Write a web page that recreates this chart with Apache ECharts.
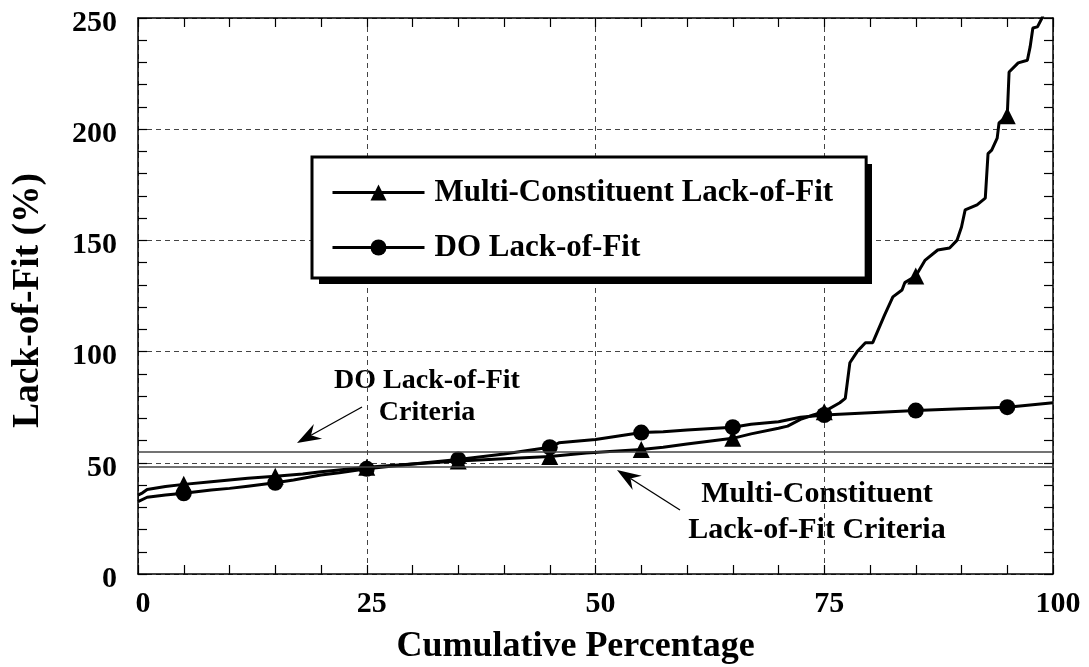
<!DOCTYPE html>
<html><head><meta charset="utf-8">
<script src="https://cdn.jsdelivr.net/npm/echarts@6/dist/echarts.min.js"></script>
<style>html,body{margin:0;padding:0;background:#fff}#c{width:1089px;height:667px}</style>
</head><body><div id="c"></div>
<script>
// ---- data ----
const seriesNames = ['Multi-Constituent Lack-of-Fit', 'DO Lack-of-Fit'];
const multiX = [0,0.5,1,3,5,8,10,12,15,18,20,25,30,35,40,45,49,55,57.4,60,65,67,70,71,72.4,73.8,75,76.7,77.3,77.8,78.6,79.5,80.3,81.6,82.5,83.5,83.8,85,86,87.4,88.7,89.5,90,90.4,91.7,92.6,92.9,93.3,93.9,94.1,95,95.2,96.2,97.2,97.5,97.8,98.3,98.8,99.3];
const multiY = [35.5,36.5,38,39.3,40.3,41.5,42.3,43,44,45,46,48,49.5,50.8,51.8,52.8,54.4,56,57,58.5,61,63,65.5,66.5,69.5,71.5,73,77,79,95,100,104,104,116.5,124.6,127.7,131,134,141,145.7,146.6,150,156,163.7,166,169,189,190.6,196,202.8,206,225.7,229.8,231,237,245.5,246,250,256];
const doX = [0,1,3,5,8,10,12,15,17,20,22,25,30,35,40,45,46,50,54.5,55,57.4,60,65,67,70,72.4,75,80,85,90,95,100];
const doY = [32.5,34.5,35.5,36.3,37.8,38.5,39.5,41,42.3,44.5,45.5,47.3,49.5,51.5,54,57,59,60.5,63.3,63.6,64,64.8,66,67.3,68.5,70.5,71.5,72.5,73.5,74.3,75,77];
const markerX = [5,15,25,35,45,55,65,75,85,95];
const criteria = { doCriterion: 55, multiCriterion: 48 };
const xTitle = 'Cumulative Percentage';
const yTitle = 'Lack-of-Fit (%)';
const annotDO = 'DO Lack-of-Fit\nCriteria';
const annotMulti = 'Multi-Constituent\nLack-of-Fit Criteria';

// ---- build ----
const FONT = "'Liberation Serif','Times New Roman',serif";
function build(xs, ys) {
  return xs.map((x, i) => markerX.includes(x) ? { value: [x, ys[i]] } : { value: [x, ys[i]], symbol: 'none' });
}
function arrow(x1, y1, x2, y2) {
  const dx = x2 - x1, dy = y2 - y1, len = Math.hypot(dx, dy), ux = dx / len, uy = dy / len, px = -uy, py = ux;
  const L = 24, W = 8.5, N = 16;
  const bx = x2 - ux * L, by = y2 - uy * L;
  return [
    { type: 'line', silent: true, shape: { x1, y1, x2: x2 - ux * N, y2: y2 - uy * N }, style: { stroke: '#000', lineWidth: 1.3 } },
    { type: 'polygon', silent: true, shape: { points: [[x2, y2], [bx + px * W, by + py * W], [x2 - ux * N, y2 - uy * N], [bx - px * W, by - py * W]] }, style: { fill: '#000' } }
  ];
}
const chart = echarts.init(document.getElementById('c'), null, { renderer: 'canvas' });
const tickCommon = { inside: true, length: 9, lineStyle: { color: '#000', width: 1.2 } };
const minorCommon = { show: true, splitNumber: 5, length: 9, lineStyle: { color: '#000', width: 1.2 } };
const axisLineCommon = { show: true, onZero: false, lineStyle: { color: '#000', width: 1.5 } };
const gridLine = { show: true, lineStyle: { color: '#444', width: 1, type: [5, 4] } };
chart.setOption({
  animation: false,
  backgroundColor: '#fff',
  textStyle: { fontFamily: FONT },
  grid: { left: 138, right: 36, top: 18, bottom: 93, containLabel: false, outerBoundsMode: 'none' },
  legend: {
    left: 312, top: 157, orient: 'vertical', selectedMode: false, z: 5,
    data: seriesNames,
    itemWidth: 92, itemHeight: 20, itemGap: 24,
    padding: [20, 33, 15, 19],
    backgroundColor: '#fff', borderColor: '#000', borderWidth: 3, borderRadius: 0,
    lineStyle: { width: 3, color: '#000' },
    textStyle: { fontFamily: FONT, fontWeight: 'bold', fontSize: 31, color: '#000', padding: [0, 0, 0, 5] }
  },
  xAxis: [{
    type: 'value', min: 0, max: 100, interval: 25, position: 'bottom',
    name: xTitle, nameLocation: 'middle', nameGap: 55,
    nameTextStyle: { fontFamily: FONT, fontWeight: 'bold', fontSize: 36, color: '#000', padding: [0, 40, 0, 0] },
    axisLine: axisLineCommon,
    axisTick: tickCommon,
    minorTick: minorCommon,
    splitLine: gridLine,
    axisLabel: { fontFamily: FONT, fontWeight: 'bold', fontSize: 30, color: '#000', margin: 15, padding: [0, 0, 0, 10] }
  }, {
    type: 'value', min: 0, max: 100, interval: 25, position: 'top',
    axisLine: axisLineCommon, axisTick: tickCommon, minorTick: minorCommon,
    splitLine: { show: false }, axisLabel: { show: false }
  }],
  yAxis: [{
    type: 'value', min: 0, max: 250, interval: 50, position: 'left',
    name: yTitle, nameLocation: 'middle', nameGap: 91, nameRotate: 90,
    nameTextStyle: { fontFamily: FONT, fontWeight: 'bold', fontSize: 37.5, color: '#000', padding: [0, 9, 0, 0] },
    axisLine: axisLineCommon, axisTick: tickCommon, minorTick: minorCommon,
    splitLine: gridLine,
    axisLabel: { fontFamily: FONT, fontWeight: 'bold', fontSize: 30, color: '#000', margin: 21, verticalAlign: 'top', lineHeight: 10 }
  }, {
    type: 'value', min: 0, max: 250, interval: 50, position: 'right',
    axisLine: axisLineCommon, axisTick: tickCommon, minorTick: minorCommon,
    splitLine: { show: false }, axisLabel: { show: false }
  }],
  series: [{
    name: seriesNames[0], type: 'line', xAxisIndex: 0, yAxisIndex: 0,
    data: build(multiX, multiY), showAllSymbol: true,
    symbol: 'triangle', symbolSize: 17,
    lineStyle: { color: '#000', width: 3 }, itemStyle: { color: '#000' },
    clip: true, z: 3,
    markLine: {
      silent: true, symbol: 'none', label: { show: false },
      lineStyle: { color: '#444', width: 1.5, type: 'solid' },
      data: [{ yAxis: criteria.multiCriterion }]
    }
  }, {
    name: seriesNames[1], type: 'line', xAxisIndex: 0, yAxisIndex: 0,
    data: build(doX, doY), showAllSymbol: true,
    symbol: 'circle', symbolSize: 16,
    lineStyle: { color: '#000', width: 3 }, itemStyle: { color: '#000' },
    clip: true, z: 4,
    markLine: {
      silent: true, symbol: 'none', label: { show: false },
      lineStyle: { color: '#444', width: 1.5, type: 'solid' },
      data: [{ yAxis: criteria.doCriterion }]
    }
  }],
  graphic: [
    { type: 'rect', silent: true, z: 4, shape: { x: 319, y: 164, width: 553, height: 120 }, style: { fill: '#000' } },
    { type: 'text', silent: true, style: { x: 427, y: 397, text: annotDO, font: "bold 28px 'Liberation Serif'", fill: '#000', textAlign: 'center', textVerticalAlign: 'middle', lineHeight: 32 } },
    { type: 'text', silent: true, style: { x: 817, y: 512, text: annotMulti, font: "bold 30px 'Liberation Serif'", fill: '#000', textAlign: 'center', textVerticalAlign: 'middle', lineHeight: 36 } },
    ...arrow(362, 407, 297, 443),
    ...arrow(680, 510, 617, 470)
  ]
});
</script></body></html>
